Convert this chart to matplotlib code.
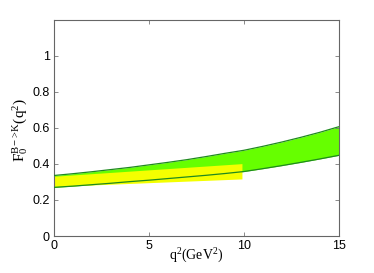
import numpy as np
import matplotlib
matplotlib.use('agg')
import matplotlib.pyplot as plt

# green band (GeV^2)
q2 = [0, 1, 2, 3, 4, 5, 6, 7, 8, 9, 10, 11, 12, 13, 14, 15]
f0_hi = [0.336, 0.346, 0.357, 0.369, 0.381, 0.395, 0.409, 0.424, 0.441, 0.459,
         0.476, 0.498, 0.522, 0.548, 0.576, 0.607]
f0_lo = [0.270, 0.277, 0.285, 0.293, 0.302, 0.310, 0.319, 0.328, 0.337, 0.347,
         0.358, 0.374, 0.391, 0.409, 0.428, 0.448]

# yellow band
yel_q2 = [0, 9.9]
yel_hi = [0.332, 0.402]
yel_lo = [0.275, 0.317]

xticks = [0, 5, 10, 15]
yticks = [0, 0.2, 0.4, 0.6, 0.8, 1]
ytick_labels = ['0', '0.2', '0.4', '0.6', '0.8', '1']

plt.rcParams['font.family'] = 'Liberation Sans'
plt.rcParams['mathtext.fontset'] = 'custom'
plt.rcParams['mathtext.rm'] = 'Liberation Serif'

fig = plt.figure(figsize=(3.74, 2.73), dpi=100)
ax = fig.add_axes([0.144, 0.1355, 0.762, 0.7915])

ax.fill_between(q2, f0_lo, f0_hi, color='#66ff00', lw=0, zorder=1)
ax.fill_between(yel_q2, yel_lo, yel_hi, color='#f4ff00', lw=0, zorder=2)
ax.plot(q2, f0_hi, color='#1f8a1f', lw=0.9, zorder=3)
ax.plot(q2, f0_lo, color='#1f8a1f', lw=0.9, zorder=3)

ax.set_xlim(0, 15)
ax.set_ylim(0, 1.2)
ax.set_xticks(xticks)
ax.set_yticks(yticks)
ax.set_yticklabels(ytick_labels)
ax.tick_params(direction='in', top=True, right=True, length=3, width=0.6,
               color='#777777', labelsize=9, pad=3)
for sp in ax.spines.values():
    sp.set_color('#666666')
    sp.set_linewidth(0.8)

ax.set_xlabel(r'$\mathrm{q^2(GeV^2)}$', fontsize=10)
ax.xaxis.set_label_coords(0.5, -0.05)
ax.set_ylabel(r'$\mathrm{F_0^{B\!-\!>\!K}(q^2)}$', fontsize=11)
ax.yaxis.set_label_coords(-0.085, 0.49)

fig.savefig('out.png', dpi=100)
